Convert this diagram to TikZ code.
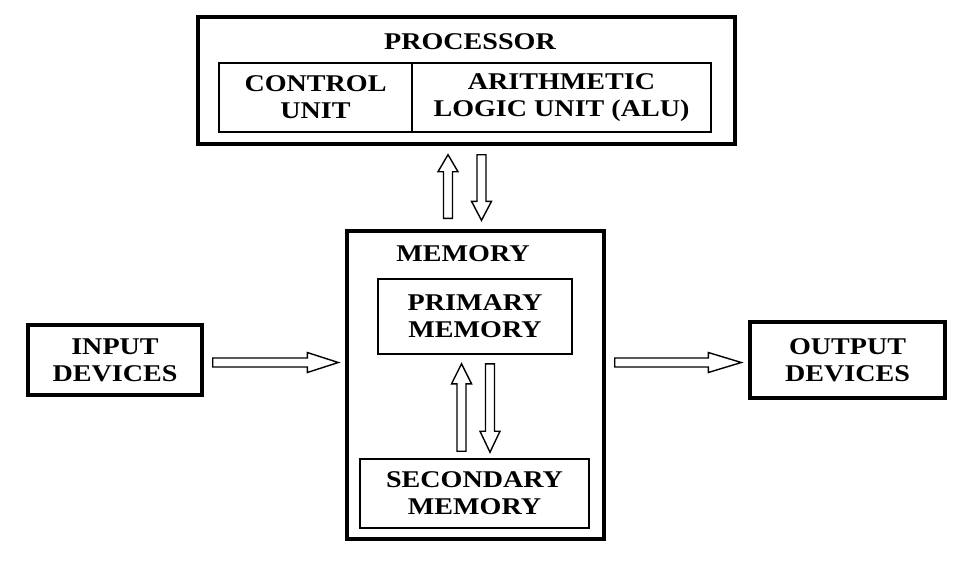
\documentclass[tikz,border=0pt]{standalone}
\usepackage{fontspec}
\setmainfont{Liberation Serif}[FakeStretch=1.17]
\usetikzlibrary{calc}

\begin{document}
\begin{tikzpicture}
[x=1pt, y=-1pt,
every node/.style={align=center, inner sep=0pt,
  font=\fontsize{24}{27}\selectfont\bfseries},
outer/.style={draw, line width=3.4pt},
unit/.style={draw, line width=1.6pt},
flow/.style={line width=1.4pt},
hollow/.style={to path={
  ($(\tikztostart)!4.5pt!90:(\tikztotarget)$)
  -- ($(\tikztotarget)!#1!(\tikztostart)!4.5pt!-90:(\tikztostart)$)
  -- ($(\tikztotarget)!#1!(\tikztostart)!10pt!-90:(\tikztostart)$)
  -- (\tikztotarget)
  -- ($(\tikztotarget)!#1!(\tikztostart)!10pt!90:(\tikztostart)$)
  -- ($(\tikztotarget)!#1!(\tikztostart)!4.5pt!90:(\tikztostart)$)
  -- ($(\tikztostart)!4.5pt!-90:(\tikztotarget)$) -- cycle}},
hollow/.default=19pt
]
\useasboundingbox (0,0) rectangle (967,566);

\node[outer, minimum width=537pt, minimum height=127pt] (proc) at (466.5,80.5) {};
\node (proclabel) at (470,42) {PROCESSOR};
\node[unit, minimum width=193pt, minimum height=69pt] (cu) at (315.5,97.5) {CONTROL\\UNIT};
\node[unit, minimum width=299pt, minimum height=69pt] (alu) at (561.5,97.5) {ARITHMETIC\\LOGIC UNIT (ALU)};

\node[outer, minimum width=257pt, minimum height=308pt] (mem) at (475.5,385) {};
\node (memlabel) at (463,254) {MEMORY};
\node[unit, minimum width=194pt, minimum height=75pt] (prim) at (475,316.5) {PRIMARY\\MEMORY};
\node[unit, minimum width=229pt, minimum height=69pt] (sec) at (474.5,493.5) {SECONDARY\\MEMORY};

\node[outer, minimum width=174pt, minimum height=70pt] (in) at (115,360) {INPUT\\DEVICES};
\node[outer, minimum width=195pt, minimum height=76pt] (out) at (847.5,360) {OUTPUT\\DEVICES};

\draw[flow] ([xshift=-27.5pt,yshift=11pt]mem.north) to[hollow=17pt] ([xshift=-18.5pt,yshift=-9pt]proc.south);
\draw[flow] ([xshift=15pt,yshift=-9pt]proc.south) to[hollow] ([xshift=6pt,yshift=9pt]mem.north);
\draw[flow] ([xshift=-13pt,yshift=7pt]sec.north) to[hollow=20pt] ([xshift=-13.5pt,yshift=-9pt]prim.south);
\draw[flow] ([xshift=15pt,yshift=-9pt]prim.south) to[hollow=21pt] ([xshift=15.5pt,yshift=6pt]sec.north);
\draw[flow] ([xshift=9pt,yshift=-2.5pt]in.east) to[hollow=31pt] ([xshift=-7pt,yshift=-2.5pt]mem.west |- in.east);
\draw[flow] ([xshift=9pt,yshift=-2.5pt]mem.east |- out.west) to[hollow=33pt] ([xshift=-7pt,yshift=-2.5pt]out.west);
\end{tikzpicture}
\end{document}
